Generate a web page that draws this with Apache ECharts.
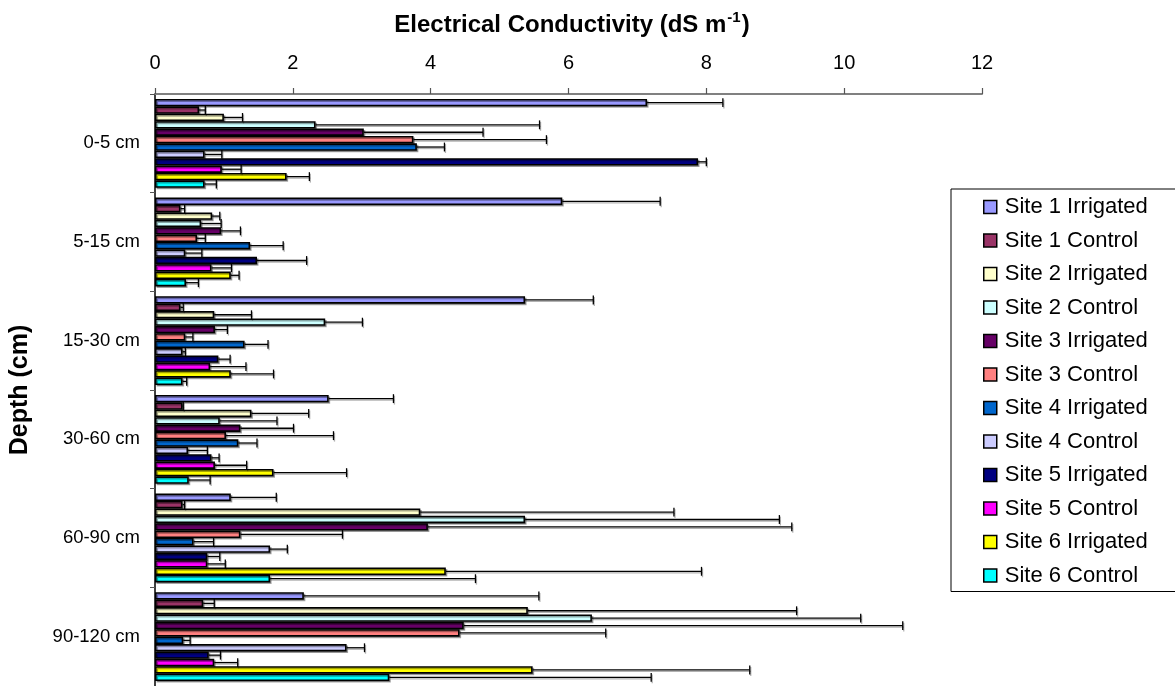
<!DOCTYPE html>
<html>
<head>
<meta charset="UTF-8">
<title>Electrical Conductivity</title>
<script src="https://cdn.jsdelivr.net/npm/echarts@6/dist/echarts.min.js"></script>
</head>
<body style="margin:0">
<div id="main" style="width:1175px;height:686px"></div>
<script>
// depth classes, top to bottom
var depths = ['0-5 cm', '5-15 cm', '15-30 cm', '30-60 cm', '60-90 cm', '90-120 cm'];
var xTicks = [0, 2, 4, 6, 8, 10, 12];

var siteNames = ['Site 1 Irrigated', 'Site 1 Control', 'Site 2 Irrigated', 'Site 2 Control',
  'Site 3 Irrigated', 'Site 3 Control', 'Site 4 Irrigated', 'Site 4 Control',
  'Site 5 Irrigated', 'Site 5 Control', 'Site 6 Irrigated', 'Site 6 Control'];
var siteColors = ['#9999FF', '#993366', '#FFFFCC', '#CCFFFF', '#660066', '#FF8080',
  '#0066CC', '#CCCCFF', '#000080', '#FF00FF', '#FFFF00', '#00FFFF'];

// mean EC (dS/m) per depth
var s1Irr  = [7.14, 5.91, 5.37, 2.52, 1.10, 2.16];
var s1Ctrl = [0.64, 0.37, 0.37, 0.40, 0.40, 0.70];
var s2Irr  = [1.00, 0.83, 0.86, 1.40, 3.85, 5.41];
var s2Ctrl = [2.33, 0.67, 2.47, 0.94, 5.37, 6.34];
var s3Irr  = [3.03, 0.96, 0.87, 1.24, 3.96, 4.48];
var s3Ctrl = [3.75, 0.61, 0.44, 1.03, 1.24, 4.42];
var s4Irr  = [3.80, 1.38, 1.30, 1.21, 0.56, 0.41];
var s4Ctrl = [0.72, 0.44, 0.40, 0.48, 1.67, 2.78];
var s5Irr  = [7.88, 1.48, 0.92, 0.82, 0.76, 0.78];
var s5Ctrl = [0.97, 0.82, 0.80, 0.87, 0.76, 0.86];
var s6Irr  = [1.91, 1.10, 1.10, 1.72, 4.22, 5.48];
var s6Ctrl = [0.72, 0.45, 0.40, 0.49, 1.67, 3.40];

// standard deviations (error bars, plus side only)
var s1IrrSd  = [1.10, 1.42, 0.99, 0.94, 0.66, 3.41];
var s1CtrlSd = [0.09, 0.06, 0.04, 0.01, 0.03, 0.16];
var s2IrrSd  = [0.27, 0.11, 0.54, 0.83, 3.68, 3.90];
var s2CtrlSd = [3.25, 0.29, 0.54, 0.83, 3.69, 3.90];
var s3IrrSd  = [1.73, 0.28, 0.18, 0.77, 5.28, 6.37];
var s3CtrlSd = [1.93, 0.12, 0.11, 1.56, 1.48, 2.12];
var s4IrrSd  = [0.40, 0.48, 0.34, 0.27, 0.29, 0.10];
var s4CtrlSd = [0.25, 0.24, 0.04, 0.28, 0.25, 0.26];
var s5IrrSd  = [0.12, 0.72, 0.17, 0.11, 0.18, 0.17];
var s5CtrlSd = [0.28, 0.29, 0.52, 0.46, 0.26, 0.34];
var s6IrrSd  = [0.33, 0.12, 0.62, 1.06, 3.71, 3.15];
var s6CtrlSd = [0.17, 0.18, 0.06, 0.31, 2.98, 3.80];

var means = [s1Irr, s1Ctrl, s2Irr, s2Ctrl, s3Irr, s3Ctrl, s4Irr, s4Ctrl, s5Irr, s5Ctrl, s6Irr, s6Ctrl];
var sds = [s1IrrSd, s1CtrlSd, s2IrrSd, s2CtrlSd, s3IrrSd, s3CtrlSd, s4IrrSd, s4CtrlSd, s5IrrSd, s5CtrlSd, s6IrrSd, s6CtrlSd];

var nSeries = siteNames.length;
var catGap = 0.10;

var series = [];
var errData = [];
for (var i = 0; i < nSeries; i++) {
  series.push({
    name: siteNames[i],
    type: 'bar',
    data: means[i],
    barGap: '0%',
    barCategoryGap: (catGap * 100) + '%',
    itemStyle: {
      color: siteColors[i],
      borderColor: '#000',
      borderWidth: 1.6,
      shadowColor: 'rgba(0,0,0,0.35)',
      shadowOffsetX: 1.5,
      shadowOffsetY: 1.5,
      shadowBlur: 0
    },
    emphasis: { disabled: true },
    animation: false
  });
  for (var j = 0; j < depths.length; j++) {
    errData.push([j, i, means[i][j], means[i][j] + sds[i][j]]);
  }
}

series.push({
  type: 'custom',
  name: 'err',
  data: errData,
  encode: { y: 0, x: [2, 3] },
  z: 5,
  silent: true,
  animation: false,
  renderItem: function (params, api) {
    var cat = api.value(0);
    var idx = api.value(1);
    var band = api.size([0, 1])[1];
    var total = band * (1 - catGap);
    var bw = total / nSeries;
    var yc = api.coord([0, cat])[1] - total / 2 + (idx + 0.5) * bw;
    var x0 = api.coord([api.value(2), cat])[0];
    var x1 = api.coord([api.value(3), cat])[0];
    var h = bw * 0.6;
    var st = { stroke: '#000', lineWidth: 1.3, shadowColor: 'rgba(0,0,0,0.3)', shadowOffsetX: 1, shadowOffsetY: 1.5, shadowBlur: 0 };
    return {
      type: 'group',
      children: [
        { type: 'line', shape: { x1: x0, y1: yc, x2: x1, y2: yc }, style: st },
        { type: 'line', shape: { x1: x1, y1: yc - h, x2: x1, y2: yc + h }, style: st }
      ]
    };
  }
});

var chart = echarts.init(document.getElementById('main'));
chart.setOption({
  animation: false,
  title: {
    text: '{b|Electrical Conductivity (dS m}{s|-1}{n|)}',
    left: 567,
    textAlign: 'center',
    top: 5,
    textStyle: {
      rich: {
        b: { fontFamily: 'Liberation Sans', fontWeight: 'bold', fontSize: 24, color: '#000', lineHeight: 30 },
        s: { fontFamily: 'Liberation Sans', fontWeight: 'bold', fontSize: 15, color: '#000', lineHeight: 30, verticalAlign: 'top', padding: [0, 1, 0, 1] },
        n: { fontFamily: 'Liberation Sans', fontSize: 24, color: '#000', lineHeight: 30 }
      }
    }
  },
  legend: {
    data: siteNames,
    orient: 'vertical',
    left: 951,
    top: 189,
    itemWidth: 13,
    itemHeight: 13,
    itemGap: 11.5,
    padding: [7, 40, 5, 32],
    borderColor: '#000',
    borderWidth: 1,
    icon: 'rect',
    itemStyle: { borderColor: '#000', borderWidth: 1.5, shadowBlur: 0, shadowOffsetX: 0, shadowOffsetY: 0, shadowColor: 'transparent' },
    textStyle: { fontFamily: 'Liberation Sans', fontSize: 22, color: '#000', padding: [0, 0, 0, 3] },
    selectedMode: false
  },
  grid: { left: 152, right: 193, top: 94, bottom: -3, containLabel: false },
  xAxis: {
    type: 'value',
    position: 'top',
    min: xTicks[0],
    max: xTicks[xTicks.length - 1],
    interval: xTicks[1] - xTicks[0],
    axisLine: { show: true, lineStyle: { color: '#808080', width: 2 } },
    axisTick: { show: true, length: 6, lineStyle: { color: '#555', width: 1.2 } },
    axisLabel: { fontFamily: 'Liberation Sans', fontSize: 20, color: '#000', margin: 21 },
    splitLine: { show: false }
  },
  yAxis: {
    type: 'category',
    data: depths,
    inverse: true,
    name: 'Depth (cm)',
    nameLocation: 'middle',
    nameGap: 122,
    nameRotate: 90,
    nameTextStyle: { fontFamily: 'Liberation Sans', fontWeight: 'bold', fontSize: 25, color: '#000' },
    axisLine: { show: true, lineStyle: { color: '#000', width: 1.5 } },
    axisTick: { show: true, length: 5, lineStyle: { color: '#555' } },
    axisLabel: { fontFamily: 'Liberation Sans', fontSize: 18.5, color: '#000', margin: 15 }
  },
  series: series
});
</script>
</body>
</html>
